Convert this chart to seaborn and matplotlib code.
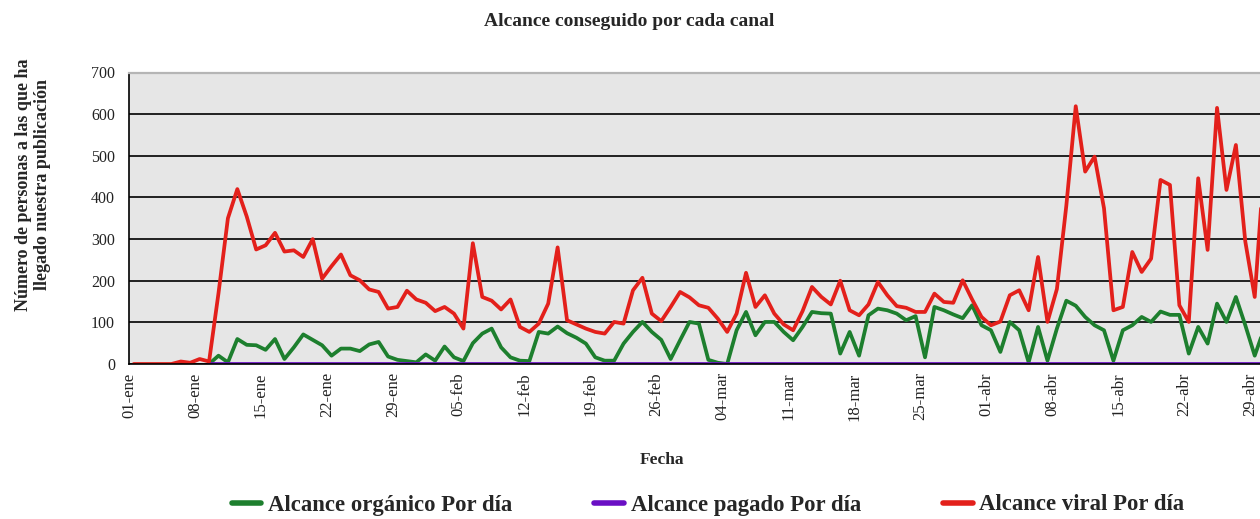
import matplotlib
matplotlib.use("Agg")
import matplotlib.pyplot as plt
import numpy as np
import pandas as pd
import seaborn as sns

# Daily reach, 01-ene .. 30-abr (2012)
start = "2012-01-01"
n_days = 121

organico = [np.nan] * 8 + [
    0, 20, 4, 60, 46, 45, 34, 60, 12, 40, 71, 58,
    45, 20, 37, 37, 31, 47, 53, 18, 10, 7,
    4, 23, 8, 42, 16, 7, 50, 73, 85, 40,
    16, 8, 7, 77, 73, 90, 74, 63, 49, 16,
    8, 8, 49, 77, 101, 77, 58, 12, 57, 101,
    97, 10, 3, 0, 81, 125, 69, 101, 101, 77,
    57, 89, 125, 122, 121, 25, 77, 20, 117, 133,
    129, 121, 105, 115, 16, 137, 129, 119, 110, 141,
    93, 81, 29, 101, 81, 4, 89, 8, 85, 152,
    140, 113, 93, 81, 8, 81, 93, 113, 101, 126,
    118, 118, 25, 89, 49, 145, 101, 161, 93, 20, 85,
]

pagado = [np.nan] * 8 + [0] * (n_days - 8)

viral = [
    0, 0, 0, 0, 0, 6, 3, 12, 6, 170, 350, 420, 354, 275, 285, 315, 270, 273, 257, 300,
    205, 235, 263, 213, 201, 179, 173, 133, 137, 176,
    155, 147, 127, 137, 121, 85, 290, 161, 152, 131,
    155, 89, 77, 97, 145, 280, 105, 95, 85, 77,
    73, 101, 97, 177, 207, 121, 103, 137, 173, 160,
    141, 135, 109, 77, 121, 219, 137, 165, 121, 95,
    81, 127, 185, 161, 143, 200, 129, 117, 143, 197,
    165, 139, 135, 125, 125, 169, 149, 147, 201, 155,
    113, 93, 102, 165, 177, 129, 257, 101, 180, 380,
    619, 462, 498, 374, 129, 137, 269, 221, 253, 442,
    430, 141, 101, 446, 274, 615, 418, 526, 294, 161, 480,
]

series = ["Alcance orgánico Por día", "Alcance pagado Por día", "Alcance viral Por día"]
colores = ["#1d7f2e", "#6a0fc4", "#e3201b"]
meses = {1: "ene", 2: "feb", 3: "mar", 4: "abr"}

dias = pd.date_range(start, periods=n_days, freq="D")
# Excel puts the points between the tick marks
x = dias + pd.Timedelta(hours=12)

df = pd.concat([
    pd.DataFrame({"fecha": x, "valor": vals, "serie": name})
    for name, vals in zip(series, [organico, pagado, viral])
], ignore_index=True)

sns.set_style("white")
plt.rcParams["font.family"] = ["Liberation Serif", "DejaVu Serif"]

fig = plt.figure(figsize=(12.6, 5.19), dpi=100)
ax = fig.add_axes([129 / 1260, 1 - 364 / 519, 1 - 129 / 1260, (364 - 72.5) / 519])
ax.set_facecolor("#e6e6e6")

sns.lineplot(data=df, x="fecha", y="valor", hue="serie", hue_order=series,
             palette=colores, linewidth=2.7, ax=ax)

ax.set_ylim(0, 700)
ax.set_yticks(range(0, 701, 100))
ax.set_xlim(pd.Timestamp(start), pd.Timestamp(start) + pd.Timedelta(days=120.06))
ticks = pd.date_range(start, "2012-04-29", freq="7D")
ax.set_xticks(ticks)
ax.set_xticklabels([f"{t.day:02d}-{meses[t.month]}" for t in ticks], rotation=90)

ax.set_axisbelow(True)
ax.yaxis.grid(True, color="black", linewidth=1.2)
ax.xaxis.grid(False)
for side in ["left", "bottom"]:
    ax.spines[side].set_color("black")
    ax.spines[side].set_linewidth(1.2)
ax.spines["right"].set_visible(False)
ax.spines["top"].set_color("#b5b5b5")
ax.spines["top"].set_linewidth(1.6)
ax.tick_params(axis="both", which="major", direction="out", length=4, width=1,
               color="black", labelcolor="#222222")
ax.tick_params(axis="y", pad=6, labelsize=11.5)
ax.tick_params(axis="x", pad=2, labelsize=12)
ax.set_xlabel("")
ax.set_ylabel("")

fig.text(629 / 1260, 1 - 22 / 519, "Alcance conseguido por cada canal", ha="center",
         va="center", fontsize=14, fontweight="bold")
fig.text(662 / 1260, 1 - 460 / 519, "Fecha", ha="center", va="center",
         fontsize=12.5, fontweight="bold")
fig.text(33 / 1260, 1 - 185 / 519, "Número de personas a las que ha\nllegado nuestra publicación",
         ha="center", va="center", rotation=90, fontsize=13, fontweight="bold",
         linespacing=1.1)

sns.move_legend(ax, "center", bbox_to_anchor=(708 / 1260, 1 - 505 / 519),
                bbox_transform=fig.transFigure, ncol=3, frameon=False, title=None,
                fontsize=16.4, handlelength=1.3, columnspacing=3.6, handletextpad=0.3,
                borderpad=0, borderaxespad=0)
leg = ax.get_legend()
for t in leg.get_texts():
    t.set_fontweight("bold")
for h in leg.legend_handles:
    h.set_linewidth(4)

fig.savefig("out.png", dpi=100)
